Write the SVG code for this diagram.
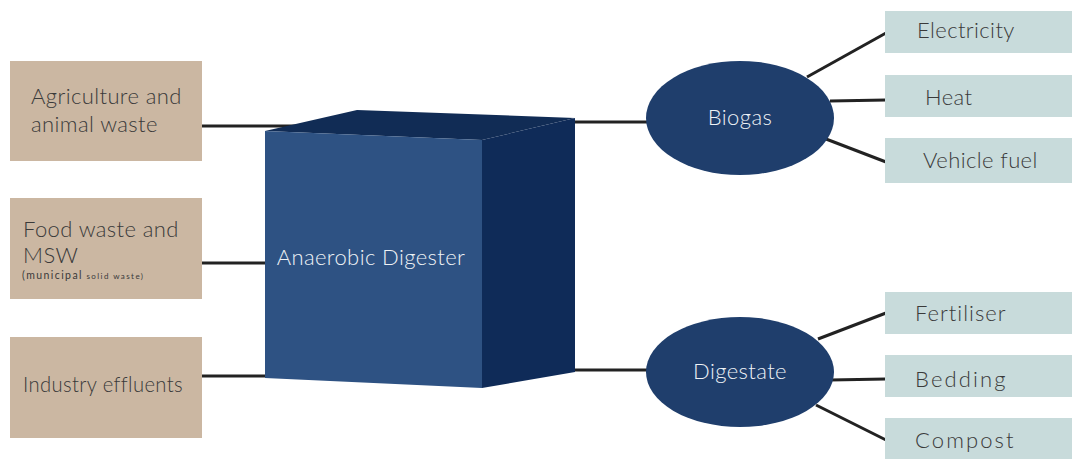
<svg xmlns="http://www.w3.org/2000/svg" width="1072" height="459" viewBox="0 0 1072 459">
<style>
.src{fill:#cbb7a2}
.out{fill:#c8dbdb}
.ell{fill:#1f3e6c}
.ln{stroke:#222;stroke-width:3;fill:none}
.dk{font-family:Lato,"Open Sans",sans-serif;font-size:22px;font-weight:300;letter-spacing:0.4px;fill:#3a3a3a}
.wt{font-family:Lato,"Open Sans",sans-serif;font-size:22px;font-weight:300;letter-spacing:0.4px;fill:#eef2f6;text-anchor:middle}
</style>
<rect width="1072" height="459" fill="#fff"/>
<g id="connectors">
<line class="ln" x1="202" y1="126" x2="300" y2="126"/>
<line class="ln" x1="202" y1="263" x2="268" y2="263"/>
<line class="ln" x1="202" y1="376" x2="268" y2="376"/>
<line class="ln" x1="570" y1="122" x2="650" y2="122"/>
<line class="ln" x1="570" y1="370" x2="650" y2="370"/>
<line class="ln" x1="807" y1="77" x2="886" y2="33"/>
<line class="ln" x1="830" y1="101" x2="886" y2="100"/>
<line class="ln" x1="826" y1="139" x2="886" y2="162"/>
<line class="ln" x1="818" y1="339" x2="886" y2="313"/>
<line class="ln" x1="830" y1="380" x2="886" y2="379"/>
<line class="ln" x1="816" y1="405" x2="886" y2="440"/>
</g>
<g id="src-agri">
<rect class="src" x="10" y="61" width="192" height="100"/>
<text class="dk" x="31" y="104">Agriculture and</text>
<text class="dk" x="31" y="132">animal waste</text>
</g>
<g id="src-food">
<rect class="src" x="10" y="198" width="192" height="101"/>
<text class="dk" x="23" y="237">Food waste and</text>
<text class="dk" x="23" y="263">MSW</text>
<text x="22" y="279" font-family="Lato,'Open Sans',sans-serif" fill="#3a3a3a" textLength="121" lengthAdjust="spacing"><tspan font-size="10.5">(municipal</tspan><tspan font-size="8"> solid waste)</tspan></text>
</g>
<g id="src-industry">
<rect class="src" x="10" y="337" width="192" height="101"/>
<text class="dk" x="23" y="392" textLength="160" lengthAdjust="spacingAndGlyphs">Industry effluents</text>
</g>
<g id="digester">
<polygon points="265,131 357,110 575,118 482,140" fill="#112c55"/>
<polygon points="482,140 575,118 575,372 482,388" fill="#0f2b58"/>
<polygon points="265,131 482,140 482,388 265,378" fill="#2e5283"/>
<text class="wt" x="371" y="265">Anaerobic Digester</text>
</g>
<g id="biogas">
<ellipse class="ell" cx="740" cy="118" rx="94" ry="57"/>
<text class="wt" x="740" y="125">Biogas</text>
</g>
<g id="digestate">
<ellipse class="ell" cx="740" cy="372" rx="94" ry="55"/>
<text class="wt" x="740" y="379">Digestate</text>
</g>
<g id="out-electricity">
<rect class="out" x="885" y="11" width="187" height="42"/>
<text class="dk" x="917" y="38">Electricity</text>
</g>
<g id="out-heat">
<rect class="out" x="885" y="75" width="187" height="42"/>
<text class="dk" x="925" y="105">Heat</text>
</g>
<g id="out-vehicle">
<rect class="out" x="885" y="138" width="187" height="45"/>
<text class="dk" x="923" y="168">Vehicle fuel</text>
</g>
<g id="out-fertiliser">
<rect class="out" x="885" y="292" width="187" height="42"/>
<text class="dk" x="915" y="321" textLength="91" lengthAdjust="spacing">Fertiliser</text>
</g>
<g id="out-bedding">
<rect class="out" x="885" y="355" width="187" height="42"/>
<text class="dk" x="915" y="387" textLength="91" lengthAdjust="spacing">Bedding</text>
</g>
<g id="out-compost">
<rect class="out" x="885" y="418" width="187" height="41"/>
<text class="dk" x="915" y="448" textLength="99" lengthAdjust="spacing">Compost</text>
</g>
</svg>
